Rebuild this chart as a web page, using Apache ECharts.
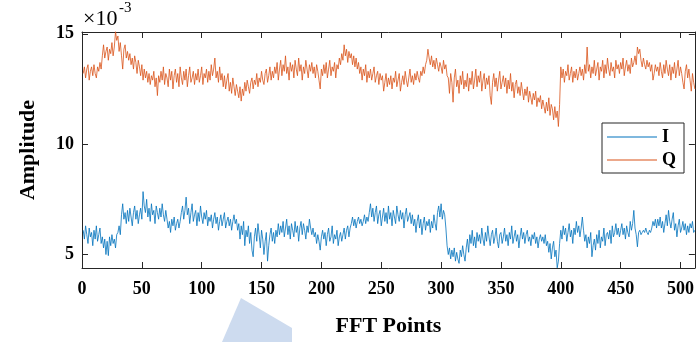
<!DOCTYPE html>
<html>
<head>
<meta charset="utf-8">
<script src="https://cdn.jsdelivr.net/npm/echarts@6/dist/echarts.min.js"></script>
<style>
  html, body { margin: 0; padding: 0; background: #fff; }
  #chart { width: 697px; height: 342px; }
</style>
</head>
<body>
<div id="chart"></div>
<script>
// Amplitude of the I and Q channels over 512 FFT points (values in units of 1e-3)
const seriesNames = ['I', 'Q'];
const xTicks = [0, 50, 100, 150, 200, 250, 300, 350, 400, 450, 500];
const yTicks = [5, 10, 15];

const qAmp = [
  13.2,13.5,13.0,13.4,13.6,12.9,13.3,13.5,13.1,13.6,13.2,13.0,13.5,13.3,13.7,13.4,14.0,14.5,13.9,14.2,14.4,13.8,14.3,14.1,14.6,14.0,14.4,15.1,14.7,14.9,14.2,14.6,
  14.0,13.4,14.3,14.5,13.9,14.2,13.8,14.1,13.6,13.9,13.4,14.0,13.7,13.2,13.8,13.5,13.1,13.6,12.9,13.4,13.0,13.3,12.8,13.2,12.7,13.1,12.9,13.3,12.6,13.0,12.2,13.1,
  12.8,13.3,12.9,13.5,12.7,13.2,13.0,12.6,13.4,12.9,13.3,12.5,13.1,13.4,12.8,13.2,12.6,13.5,13.0,12.7,13.3,12.9,13.4,12.6,13.1,13.5,12.8,13.0,13.3,12.7,13.2,12.9,
  13.4,12.8,13.1,13.5,12.7,13.2,13.0,13.4,12.8,13.3,12.9,13.6,13.1,13.4,13.9,13.0,13.3,12.8,13.5,12.9,13.2,12.6,13.1,12.5,12.9,13.2,12.4,12.8,12.3,13.0,12.6,12.2,
  12.7,12.4,12.1,12.6,11.95,12.5,12.2,12.8,12.4,12.9,12.6,12.3,12.8,13.0,12.5,12.9,12.7,13.2,12.6,13.0,12.8,13.3,12.9,12.7,13.2,13.4,12.8,13.1,13.5,12.9,13.3,13.0,
  13.5,13.2,13.7,12.9,13.4,13.8,13.1,13.6,13.3,14.0,13.2,13.5,12.9,13.7,13.3,13.6,13.0,13.8,13.4,13.1,13.9,13.3,13.6,12.9,13.5,13.2,13.8,13.4,13.0,13.6,13.3,13.7,
  13.2,13.5,13.0,13.6,13.3,12.9,12.5,13.4,13.1,13.6,13.2,13.7,13.0,13.4,13.8,13.1,13.5,13.3,13.7,13.0,13.6,13.4,13.9,13.6,14.1,13.8,14.5,14.0,14.3,13.7,14.2,13.9,
  14.1,13.6,14.0,13.5,13.9,13.4,13.7,13.2,13.5,12.9,13.4,13.1,13.6,12.8,13.3,13.0,13.4,12.9,13.2,13.5,12.8,13.1,13.3,12.7,13.2,12.9,13.1,12.4,12.8,13.2,12.6,13.0,
  12.7,13.1,12.5,13.0,12.8,13.3,12.6,12.9,13.2,12.4,12.8,13.1,12.7,13.3,12.9,12.6,13.0,13.4,12.8,13.1,12.7,13.2,12.9,13.3,13.0,12.8,13.3,13.1,13.5,13.2,13.6,13.8,
  14.3,13.9,13.6,14.0,13.5,13.8,13.4,13.9,13.6,13.3,13.7,13.5,13.2,13.8,13.4,13.6,13.1,13.0,12.3,13.2,12.8,11.9,13.0,13.4,12.6,12.9,12.3,13.1,12.7,13.3,12.5,12.9,
  12.6,13.2,12.4,13.0,12.7,13.3,12.5,12.9,13.4,12.6,13.1,12.8,13.3,12.4,12.9,13.2,12.5,13.0,12.7,13.1,12.2,11.8,12.8,13.2,12.6,13.0,12.4,12.9,13.3,12.5,12.8,13.1,
  12.6,13.0,12.3,12.9,12.5,13.2,12.4,12.8,12.1,12.7,12.9,12.3,12.6,12.2,12.8,12.4,12.0,12.5,12.2,12.6,11.9,12.4,12.1,11.8,12.3,12.0,12.4,11.7,12.1,11.9,12.2,11.6,
  12.0,11.7,11.4,11.9,11.5,12.1,11.3,11.8,11.6,11.1,11.7,11.2,11.5,10.8,11.8,13.5,13.0,13.4,12.8,13.3,13.1,13.6,12.9,13.2,13.5,12.8,13.3,13.0,13.4,12.9,13.2,13.5,
  13.1,13.4,12.9,13.6,13.2,14.4,13.3,13.6,13.0,13.5,13.2,13.8,13.1,13.4,13.7,12.9,13.5,13.3,13.8,13.0,13.6,13.2,13.9,13.4,13.1,13.7,13.3,13.5,13.0,13.8,13.4,13.6,
  13.2,13.7,13.4,13.9,13.1,13.5,13.8,13.3,13.6,13.2,13.9,13.5,13.7,14.0,13.6,14.4,14.1,14.3,13.8,13.5,13.9,13.6,13.4,13.8,13.5,13.7,13.3,13.6,12.9,13.2,13.6,13.3,
  13.5,13.1,13.7,13.3,13.0,13.6,13.2,13.8,13.4,13.1,13.6,12.9,13.5,13.2,13.7,13.0,13.4,13.8,13.1,13.5,13.2,12.8,12.5,13.3,13.6,13.0,13.4,12.9,12.4,13.2,12.8,12.5
];

const iAmp = [
  6.1,5.7,6.3,5.9,5.5,6.2,5.8,6.0,5.4,6.1,5.7,6.3,5.6,5.9,6.2,5.5,5.8,5.3,5.7,5.0,5.6,4.95,5.8,5.4,5.9,5.5,5.7,5.3,5.9,6.0,6.3,5.9,
  6.8,7.3,6.6,6.9,6.4,7.0,6.5,7.1,6.7,6.3,6.9,7.2,6.6,7.0,6.4,6.8,7.1,6.6,7.85,7.2,6.9,7.5,6.7,7.1,6.5,7.3,6.8,7.0,6.4,7.2,6.9,6.6,
  7.1,6.7,7.3,6.8,6.5,7.0,6.6,6.2,6.5,6.0,6.6,6.3,6.7,6.1,6.4,6.6,6.2,6.5,6.9,7.2,6.6,7.0,7.6,6.8,7.1,6.4,6.9,7.3,6.5,6.8,7.0,6.3,
  6.9,6.5,7.2,6.7,6.4,6.9,6.6,7.0,6.3,6.7,6.5,6.8,6.2,6.6,6.9,6.4,6.7,6.1,6.5,6.8,6.3,6.6,6.9,6.2,6.5,6.7,6.3,6.6,6.1,6.5,6.8,6.4,
  6.6,6.1,6.4,5.7,6.3,5.9,6.5,5.4,6.1,5.8,6.3,5.5,6.0,5.2,4.9,5.8,6.2,5.6,6.4,5.9,5.3,6.1,5.7,5.0,5.6,6.0,4.7,5.4,5.9,6.2,5.6,6.0,
  5.5,6.1,5.8,6.4,5.9,6.3,6.0,6.5,5.8,6.2,6.6,5.9,6.3,5.7,6.4,6.1,5.8,6.5,6.0,6.3,5.6,6.2,6.5,5.9,6.4,6.1,5.7,6.3,6.0,6.6,6.2,5.9,
  6.2,5.8,6.0,5.5,5.9,5.6,5.2,5.8,6.1,5.7,6.0,5.4,5.9,6.2,5.6,5.8,6.3,5.5,5.9,5.7,6.1,5.4,5.8,6.0,5.6,5.9,6.2,5.7,6.1,6.3,5.8,6.2,
  6.4,6.7,6.3,6.6,6.2,6.5,6.7,6.4,6.6,6.3,6.5,6.8,6.4,6.7,6.5,6.9,7.3,6.7,7.1,6.5,6.9,7.2,6.4,6.8,7.0,6.3,6.7,7.1,6.5,6.9,6.4,7.2,
  6.6,6.9,6.3,7.0,6.7,6.4,7.2,6.8,6.5,7.0,6.6,6.9,6.2,6.8,7.1,6.5,6.7,6.9,6.4,6.8,6.3,6.6,6.0,6.5,6.8,6.2,6.6,5.9,6.4,6.7,6.1,6.5,
  6.3,6.6,6.0,6.5,6.2,6.8,6.4,6.1,6.9,7.2,6.7,7.3,6.6,7.0,6.8,6.2,5.4,5.0,5.3,4.8,5.2,4.9,5.3,4.7,5.1,4.8,4.6,5.2,4.9,5.4,5.0,4.7,
  5.3,5.7,5.1,5.9,5.5,6.1,5.4,5.8,5.3,6.0,5.6,5.9,5.5,6.2,5.7,5.4,6.0,5.6,6.3,5.8,5.4,5.9,6.1,5.5,5.8,6.2,5.6,5.3,5.9,6.0,5.5,5.8,
  6.2,5.6,5.9,5.4,6.0,5.7,6.3,5.5,5.8,6.1,5.6,5.9,5.3,5.8,6.2,5.7,6.0,5.5,5.9,6.1,5.6,5.8,5.4,5.9,5.7,6.0,5.5,5.8,5.3,5.7,5.9,5.6,
  5.8,5.5,5.9,5.4,5.6,5.1,5.5,4.8,5.3,5.6,4.9,5.2,4.4,4.7,5.5,6.1,5.7,6.3,5.9,6.2,5.6,6.0,6.4,5.8,6.1,5.5,6.2,5.9,6.5,6.0,6.3,5.8,
  6.2,6.7,6.1,5.6,5.9,5.3,5.8,5.5,6.0,4.9,5.4,5.7,5.2,5.9,5.5,6.1,5.3,5.8,5.6,6.2,5.4,5.9,6.0,5.7,6.1,5.5,6.3,5.8,6.0,6.4,5.9,6.2,
  5.8,6.1,6.4,5.9,6.2,5.7,6.3,6.0,5.8,6.5,6.1,6.4,7.0,6.2,5.9,5.35,6.0,6.1,5.9,6.0,6.1,6.0,6.2,6.0,5.9,6.1,6.0,6.2,6.5,6.3,6.6,6.2,
  6.6,6.3,6.7,6.2,6.5,6.0,6.4,6.8,6.3,7.0,6.5,6.2,6.6,6.9,6.1,6.4,5.8,6.3,6.6,6.0,6.2,6.5,6.1,6.4,5.9,6.3,6.0,6.4,6.2,6.5,6.0,6.1
];

// FFT point index for each sample (1..512)
const fftPoints = qAmp.map((_, k) => k + 1);

const serif = '"Liberation Serif", "Times New Roman", serif';
const axisColor = '#262626';

const chart = echarts.init(document.getElementById('chart'), null, { renderer: 'canvas' });

const baseX = {
  type: 'value', min: 0, max: 512,
  axisLine: { show: true, onZero: false, lineStyle: { color: axisColor, width: 1 } },
  splitLine: { show: false }
};
const baseY = {
  type: 'value', min: 4.39, max: 15.08,
  axisLine: { show: true, onZero: false, lineStyle: { color: axisColor, width: 1 } },
  splitLine: { show: false }
};

chart.setOption({
  animation: false,
  backgroundColor: '#fff',
  grid: { left: 82, right: 2, top: 32, bottom: 73 },
  xAxis: [
    Object.assign({}, baseX, {
      position: 'bottom',
      name: 'FFT Points', nameLocation: 'middle', nameGap: 47,
      nameTextStyle: { fontFamily: serif, fontWeight: 'bold', fontSize: 22, color: '#000' },
      axisTick: { show: true, inside: true, length: 6, customValues: xTicks, lineStyle: { color: axisColor } },
      axisLabel: { show: true, customValues: xTicks, margin: 12, fontFamily: serif, fontWeight: 'bold', fontSize: 18, color: '#000' }
    }),
    Object.assign({}, baseX, {
      position: 'top',
      axisTick: { show: true, inside: true, length: 6, customValues: xTicks, lineStyle: { color: axisColor } },
      axisLabel: { show: false }
    })
  ],
  yAxis: [
    Object.assign({}, baseY, {
      position: 'left',
      name: 'Amplitude', nameLocation: 'middle', nameGap: 43, nameRotate: 90,
      nameTextStyle: { fontFamily: serif, fontWeight: 'bold', fontSize: 22, color: '#000' },
      axisTick: { show: true, inside: true, length: 6, customValues: yTicks, lineStyle: { color: axisColor } },
      axisLabel: { show: true, customValues: yTicks, margin: 8, fontFamily: serif, fontWeight: 'bold', fontSize: 18, color: '#000' }
    }),
    Object.assign({}, baseY, {
      position: 'right',
      axisTick: { show: true, inside: true, length: 6, customValues: yTicks, lineStyle: { color: axisColor } },
      axisLabel: { show: false }
    })
  ],
  legend: {
    orient: 'vertical',
    left: 602, top: 123,
    data: seriesNames,
    backgroundColor: '#fff',
    borderColor: axisColor, borderWidth: 1,
    padding: [5, 8, 4, 5],
    itemGap: 5,
    itemWidth: 50, itemHeight: 1,
    icon: 'rect',
    textStyle: { fontFamily: serif, fontWeight: 'bold', fontSize: 18, color: '#000' }
  },
  graphic: [
    { type: 'text', left: 83, top: 8, style: { text: '×10', font: '22px ' + serif, fill: '#000' } },
    { type: 'text', left: 119, top: 1, style: { text: '-3', font: '15px ' + serif, fill: '#000' } },
    { type: 'polygon', z: -1, shape: { points: [[241, 298], [292, 328], [292, 342], [222, 342]] },
      style: { fill: '#cddbef' } }
  ],
  series: [
    {
      name: 'I', type: 'line', xAxisIndex: 0, yAxisIndex: 0,
      data: fftPoints.map((x, k) => [x, iAmp[k]]),
      showSymbol: false, symbol: 'none',
      lineStyle: { color: '#0072BD', width: 0.8 }, itemStyle: { color: '#0072BD' }
    },
    {
      name: 'Q', type: 'line', xAxisIndex: 0, yAxisIndex: 0,
      data: fftPoints.map((x, k) => [x, qAmp[k]]),
      showSymbol: false, symbol: 'none',
      lineStyle: { color: '#D95319', width: 0.8 }, itemStyle: { color: '#D95319' }
    }
  ]
});
</script>
</body>
</html>
